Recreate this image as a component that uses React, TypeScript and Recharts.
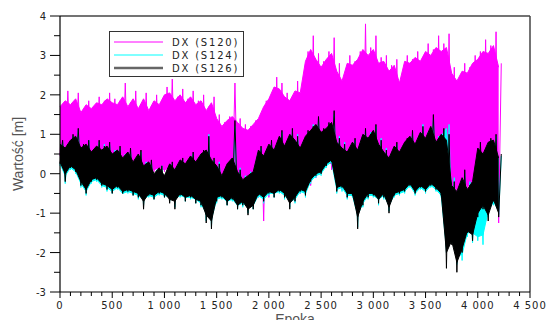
import { ComposedChart, Area, XAxis, YAxis, ReferenceLine } from 'recharts';

// epoch samples (every 50 epochs)
const epochs = [
  0, 50, 100, 150, 200, 250, 300, 350, 400, 450,
  500, 550, 600, 650, 700, 750, 800, 850, 900, 950,
  1000, 1050, 1100, 1150, 1200, 1250, 1300, 1350, 1400, 1450,
  1500, 1550, 1600, 1650, 1700, 1750, 1800, 1850, 1900, 1950,
  2000, 2050, 2100, 2150, 2200, 2250, 2300, 2350, 2400, 2450,
  2500, 2550, 2600, 2650, 2700, 2750, 2800, 2850, 2900, 2950,
  3000, 3050, 3100, 3150, 3200, 3250, 3300, 3350, 3400, 3450,
  3500, 3550, 3600, 3650, 3700, 3750, 3800, 3850, 3900, 3950,
  4000, 4050, 4100, 4150, 4200,
];

// DX (S120): spike tops / spike bottoms, and the dense band
const s120Hi = [
  1.75, 2.1, 1.8, 2.05, 1.55, 1.85, 1.7, 1.95, 1.85, 2.05,
  1.9, 1.85, 2.3, 1.8, 2.1, 1.75, 2.05, 1.7, 2.0, 1.85,
  2.2, 2.4, 1.95, 2.15, 1.9, 2.1, 1.85, 2.0, 1.7, 1.95,
  1.5, 1.3, 1.45, 2.3, 1.4, 1.25, 1.2, 1.35, 1.5, 1.85,
  2.0, 2.45, 2.3, 2.05, 1.95, 2.35, 2.2, 3.1, 3.5, 3.05,
  2.85, 3.1, 3.45, 2.8, 2.5, 3.0, 2.85, 3.1, 3.8, 3.2,
  3.5, 2.95, 3.0, 2.75, 2.9, 2.4, 3.0, 2.9, 3.1, 2.95,
  3.3, 3.15, 3.5, 3.3, 3.55, 2.7, 2.45, 2.8, 2.7, 3.0,
  3.1, 3.4, 3.25, 3.6, 2.8,
];
const s120Lo = [
  0.45, 0.35, 0.4, 0.3, 0.2, 0.15, 0.1, 0.2, 0.1, 0.05,
  0.1, 0.0, 0.05, -0.05, 0.1, 0.05, 0.1, 0.15, 0.05, 0.1,
  0.05, 0.1, 0.0, -0.1, -0.05, 0.0, -0.1, -0.2, -0.3, -0.2,
  -0.3, -0.4, -0.3, -0.4, -0.5, -0.6, -0.5, -0.7, -0.6, -1.2,
  -0.6, -0.4, -0.3, -0.5, -0.6, -0.7, -0.5, -0.2, -0.3, -0.1,
  0.1, 0.2, 0.1, -0.3, -0.4, -0.6, -0.5, -0.9, -0.5, -0.3,
  -0.4, -0.5, -0.6, -0.5, -0.4, -0.3, -0.3, -0.2, -0.3, -0.2,
  -0.1, -0.2, -0.1, -0.2, -0.3, -0.5, -0.6, -0.4, -0.5, -0.6,
  -0.4, -0.3, -0.4, -0.6, -1.25,
];
const s120BandHi = [
  1.7, 1.85, 1.75, 1.9, 1.55, 1.75, 1.65, 1.8, 1.75, 1.9,
  1.8, 1.75, 1.95, 1.7, 1.9, 1.65, 1.9, 1.6, 1.85, 1.75,
  2.0, 2.05, 1.85, 2.0, 1.8, 1.95, 1.75, 1.85, 1.6, 1.8,
  1.4, 1.2, 1.35, 1.45, 1.3, 1.15, 1.1, 1.25, 1.4, 1.7,
  1.9, 2.2, 2.15, 1.95, 1.85, 2.1, 2.05, 2.85, 3.15, 2.9,
  2.7, 2.9, 3.05, 2.6, 2.35, 2.8, 2.75, 2.9, 3.15, 3.0,
  3.15, 2.8, 2.85, 2.6, 2.75, 2.3, 2.85, 2.8, 2.95, 2.85,
  3.1, 3.0, 3.2, 3.1, 3.2, 2.55, 2.35, 2.6, 2.55, 2.8,
  2.9, 3.1, 3.05, 3.25, 2.7,
];
const s120BandLo = [
  0.5, 0.45, 0.5, 0.4, 0.3, 0.3, 0.2, 0.3, 0.2, 0.15,
  0.2, 0.1, 0.15, 0.05, 0.15, 0.1, 0.15, 0.2, 0.1, 0.15,
  0.1, 0.15, 0.05, 0.0, 0.05, 0.1, 0.0, -0.05, -0.1, -0.05,
  -0.15, -0.2, -0.15, -0.2, -0.3, -0.35, -0.3, -0.4, -0.3, -0.4,
  -0.3, -0.2, -0.1, -0.25, -0.3, -0.35, -0.25, 0.0, -0.1, 0.05,
  0.2, 0.3, 0.25, -0.1, -0.2, -0.35, -0.3, -0.5, -0.3, -0.15,
  -0.2, -0.3, -0.35, -0.3, -0.2, -0.15, -0.1, -0.05, -0.15, -0.05,
  0.0, -0.05, 0.0, -0.05, -0.15, -0.3, -0.4, -0.25, -0.3, -0.35,
  -0.2, -0.15, -0.2, -0.35, -0.6,
];

// DX (S124)
const s124Hi = [
  0.8, 0.7, 0.95, 1.1, 0.7, 0.85, 0.6, 0.8, 0.75, 0.75,
  0.6, 0.65, 0.5, 0.6, 0.4, 0.55, 0.3, 0.3, 0.1, 0.2,
  0.05, 0.25, 0.2, 0.35, 0.3, 0.5, 0.35, 0.55, 1.0, 0.35,
  0.3, 0.05, 0.25, 1.2, 0.15, -0.05, 0.05, 0.15, 0.65, 0.5,
  0.8, 0.7, 1.05, 0.75, 1.1, 1.0, 0.8, 1.05, 1.25, 1.4,
  1.1, 1.25, 1.5, 0.95, 0.8, 0.65, 0.85, 0.75, 1.1, 1.05,
  1.2, 0.9, 0.65, 0.5, 0.75, 0.65, 0.85, 1.05, 0.9, 1.25,
  1.05, 1.4, 0.95, 1.1, 1.25, -0.1, -0.3, 0.0, -0.2, 0.0,
  -0.2, 0.5, 0.85, 0.95, 0.45,
];
const s124Lo = [
  0.2, -0.25, 0.1, 0.0, -0.35, -0.55, -0.25, -0.2, -0.35, -0.45,
  -0.5, -0.4, -0.5, -0.5, -0.55, -0.65, -0.8, -0.6, -0.65, -0.55,
  -0.6, -0.7, -0.85, -0.6, -0.7, -0.65, -0.75, -0.85, -1.2, -1.35,
  -0.75, -0.65, -0.8, -0.7, -0.9, -0.85, -1.0, -0.9, -0.6, -0.75,
  -0.55, -0.6, -0.5, -0.65, -0.85, -0.75, -0.5, -0.6, -0.25, -0.1,
  -0.05, 0.15, 0.25, -0.5, -0.45, -0.65, -0.6, -1.35, -0.85, -0.65,
  -0.6, -0.8, -0.65, -0.95, -0.6, -0.55, -0.5, -0.35, -0.55, -0.4,
  -0.5, -0.35, -0.45, -0.6, -2.0, -1.7, -2.3, -2.2, -1.6, -1.75,
  -1.7, -1.8, -1.1, -0.8, -1.05,
];
const s124BandHi = [
  0.7, 0.6, 0.8, 0.9, 0.6, 0.7, 0.5, 0.65, 0.55, 0.65,
  0.45, 0.55, 0.35, 0.5, 0.25, 0.45, 0.15, 0.25, -0.05, 0.1,
  -0.1, 0.2, 0.05, 0.3, 0.2, 0.4, 0.25, 0.45, 0.55, 0.3,
  0.15, -0.1, 0.2, 0.35, 0.0, -0.2, -0.1, 0.0, 0.55, 0.4,
  0.7, 0.55, 0.9, 0.65, 0.95, 0.8, 0.6, 0.9, 1.05, 1.2,
  1.0, 1.1, 1.25, 0.75, 0.6, 0.5, 0.75, 0.55, 0.95, 0.85,
  1.05, 0.7, 0.5, 0.35, 0.65, 0.5, 0.75, 0.9, 0.7, 1.0,
  0.85, 1.15, 0.75, 0.95, 1.15, -0.35, -0.5, -0.15, -0.45, -0.25,
  -0.2, 0.45, 0.75, 0.8, 0.35,
];
const s124BandLo = [
  0.25, -0.05, 0.15, 0.05, -0.25, -0.45, -0.2, -0.15, -0.3, -0.35,
  -0.45, -0.35, -0.5, -0.45, -0.5, -0.55, -0.65, -0.55, -0.6, -0.5,
  -0.55, -0.6, -0.65, -0.55, -0.6, -0.6, -0.65, -0.75, -1.0, -1.15,
  -0.65, -0.6, -0.7, -0.65, -0.8, -0.75, -0.85, -0.8, -0.55, -0.65,
  -0.5, -0.5, -0.45, -0.55, -0.7, -0.65, -0.45, -0.5, -0.2, -0.05,
  0.0, 0.2, 0.3, -0.4, -0.35, -0.55, -0.55, -1.05, -0.75, -0.55,
  -0.55, -0.65, -0.55, -0.8, -0.55, -0.5, -0.45, -0.3, -0.5, -0.35,
  -0.45, -0.3, -0.4, -0.55, -1.9, -1.65, -2.1, -2.05, -1.5, -1.5,
  -1.6, -1.55, -0.95, -0.7, -0.95,
];

// DX (S126)
const s126Hi = [
  0.85, 0.75, 1.0, 1.15, 0.75, 0.85, 0.6, 0.85, 0.7, 0.8,
  0.55, 0.7, 0.45, 0.65, 0.35, 0.6, 0.25, 0.35, 0.05, 0.2,
  0.0, 0.3, 0.15, 0.4, 0.3, 0.55, 0.35, 0.6, 0.95, 0.4,
  0.25, 0.0, 0.3, 1.35, 0.1, -0.1, 0.0, 0.1, 0.7, 0.55,
  0.85, 0.65, 1.1, 0.8, 1.15, 0.95, 0.75, 1.1, 1.2, 1.45,
  1.15, 1.3, 1.6, 0.9, 0.75, 0.6, 0.9, 0.7, 1.15, 1.0,
  1.25, 0.85, 0.6, 0.45, 0.8, 0.6, 0.9, 1.1, 0.85, 1.2,
  1.0, 1.5, 0.9, 1.15, 1.0, -0.2, -0.4, 0.1, -0.3, -0.1,
  0.8, 0.6, 0.9, 1.0, 0.5,
];
const s126Lo = [
  0.25, -0.2, 0.15, 0.05, -0.3, -0.5, -0.2, -0.15, -0.3, -0.4,
  -0.5, -0.35, -0.5, -0.45, -0.55, -0.6, -0.9, -0.55, -0.65, -0.5,
  -0.6, -0.75, -0.9, -0.55, -0.7, -0.6, -0.75, -0.8, -1.25, -1.4,
  -0.7, -0.6, -0.8, -0.65, -0.9, -0.8, -1.05, -0.9, -0.55, -0.7,
  -0.5, -0.6, -0.45, -0.6, -0.9, -0.7, -0.45, -0.55, -0.2, -0.05,
  0.0, 0.2, 0.3, -0.45, -0.35, -0.6, -0.55, -1.4, -0.8, -0.6,
  -0.55, -0.75, -0.6, -1.0, -0.55, -0.5, -0.45, -0.3, -0.5, -0.35,
  -0.45, -0.3, -0.4, -0.55, -2.4, -1.8, -2.5, -2.0, -1.5, -1.7,
  -1.1, -0.9, -1.2, -0.7, -1.1,
];
const s126BandHi = [
  0.75, 0.65, 0.85, 0.95, 0.65, 0.75, 0.55, 0.7, 0.6, 0.7,
  0.5, 0.6, 0.4, 0.55, 0.3, 0.5, 0.2, 0.3, 0.0, 0.15,
  -0.05, 0.25, 0.1, 0.35, 0.25, 0.45, 0.3, 0.5, 0.6, 0.35,
  0.2, -0.05, 0.25, 0.4, 0.05, -0.15, -0.05, 0.05, 0.6, 0.45,
  0.75, 0.6, 0.95, 0.7, 1.0, 0.85, 0.65, 0.95, 1.1, 1.25,
  1.05, 1.15, 1.3, 0.8, 0.65, 0.55, 0.8, 0.6, 1.0, 0.9,
  1.1, 0.75, 0.55, 0.4, 0.7, 0.55, 0.8, 0.95, 0.75, 1.05,
  0.9, 1.2, 0.8, 1.0, 0.85, -0.3, -0.45, -0.1, -0.4, -0.2,
  0.65, 0.5, 0.8, 0.85, 0.4,
];
const s126BandLo = [
  0.3, 0.0, 0.2, 0.1, -0.2, -0.4, -0.15, -0.1, -0.25, -0.3,
  -0.4, -0.3, -0.45, -0.4, -0.45, -0.5, -0.7, -0.5, -0.55, -0.45,
  -0.5, -0.65, -0.7, -0.5, -0.6, -0.55, -0.65, -0.7, -1.05, -1.2,
  -0.6, -0.55, -0.7, -0.6, -0.8, -0.7, -0.9, -0.8, -0.5, -0.6,
  -0.45, -0.5, -0.4, -0.5, -0.75, -0.6, -0.4, -0.45, -0.15, 0.0,
  0.05, 0.25, 0.35, -0.35, -0.3, -0.5, -0.5, -1.1, -0.7, -0.5,
  -0.5, -0.65, -0.5, -0.85, -0.5, -0.45, -0.4, -0.25, -0.45, -0.3,
  -0.4, -0.25, -0.35, -0.5, -2.0, -1.7, -2.25, -1.9, -1.45, -1.55,
  -1.0, -0.8, -1.05, -0.65, -1.0,
];

const xTicks = [
  0, 100, 200, 300, 400, 500, 600, 700, 800, 900, 1000, 1100, 1200, 1300, 1400,
  1500, 1600, 1700, 1800, 1900, 2000, 2100, 2200, 2300, 2400, 2500, 2600, 2700,
  2800, 2900, 3000, 3100, 3200, 3300, 3400, 3500, 3600, 3700, 3800, 3900, 4000,
  4100, 4200, 4300, 4400, 4500,
];
const yTicks = [-3, -2.5, -2, -1.5, -1, -0.5, 0, 0.5, 1, 1.5, 2, 2.5, 3, 3.5, 4];

const series = [
  { key: 's120', name: 'DX (S120)', color: '#ff00ff', legendColor: '#ff00ff', legendWidth: 1, hi: s120Hi, lo: s120Lo, bandHi: s120BandHi, bandLo: s120BandLo },
  { key: 's124', name: 'DX (S124)', color: '#00ffff', legendColor: '#00ffff', legendWidth: 1, hi: s124Hi, lo: s124Lo, bandHi: s124BandHi, bandLo: s124BandLo },
  { key: 's126', name: 'DX (S126)', color: '#000000', legendColor: '#666666', legendWidth: 2.5, hi: s126Hi, lo: s126Lo, bandHi: s126BandHi, bandLo: s126BandLo },
];

// dense band per series (range area)
const bandRows = epochs.map((x, i) => {
  const row: any = { x };
  series.forEach((s) => {
    row[s.key] = [s.bandLo[i], s.bandHi[i]];
  });
  return row;
});

// spikes: bottom sample on the epoch, top sample half a step later
const spikeRows = (s: (typeof series)[number]) =>
  epochs.flatMap((x, i) => [
    { x, v: s.lo[i] },
    { x: x + 25, v: s.hi[i] },
  ]);

const FONT = '"DejaVu Sans", Verdana, sans-serif';

const fmtEpoch = (v: number) =>
  v >= 1000 ? `${Math.floor(v / 1000)} ${String(v % 1000).padStart(3, '0')}` : String(v);

const XTick = (props: any) => {
  const { x, y, payload } = props;
  const v = payload.value;
  if (v % 500 !== 0) {
    return <line x1={x} y1={y} x2={x} y2={y + 4} stroke="#000" />;
  }
  return (
    <g>
      <line x1={x} y1={y} x2={x} y2={y + 6} stroke="#000" />
      <text x={x} y={y + 17} textAnchor="middle" fontFamily={FONT} fontSize={10} letterSpacing={1} fill="#222">
        {fmtEpoch(v)}
      </text>
    </g>
  );
};

const YTick = (props: any) => {
  const { x, y, payload } = props;
  const v = payload.value;
  if (!Number.isInteger(v)) {
    return <line x1={x - 6} y1={y} x2={x} y2={y} stroke="#000" />;
  }
  return (
    <g>
      <line x1={x - 10} y1={y} x2={x} y2={y} stroke="#000" />
      <text x={x - 14} y={y + 4} textAnchor="end" fontFamily={FONT} fontSize={10} fill="#222">
        {v}
      </text>
    </g>
  );
};

function LegendBox() {
  return (
    <div
      style={{
        position: 'absolute',
        left: 109,
        top: 31,
        width: 135,
        height: 46,
        border: '1px solid #333',
        background: '#fff',
        boxSizing: 'border-box',
      }}
    >
      <svg width={135} height={46}>
        {series.map((s, i) => (
          <g key={s.key}>
            <line x1={4} x2={53} y1={10 + i * 13} y2={10 + i * 13} stroke={s.legendColor} strokeWidth={s.legendWidth} />
            <text x={62} y={14 + i * 13} fontFamily={FONT} fontSize={10} letterSpacing={1.8} fill="#222">
              {s.name}
            </text>
          </g>
        ))}
      </svg>
    </div>
  );
}

export default function App() {
  return (
    <div style={{ position: 'absolute', left: 0, top: 0, width: 549, height: 320, background: '#fff', overflow: 'hidden' }}>
      <ComposedChart width={549} height={320} data={bandRows} margin={{ top: 16, right: 19, bottom: 0, left: 0 }}>
        <XAxis
          dataKey="x"
          type="number"
          domain={[0, 4500]}
          ticks={xTicks}
          interval={0}
          tickSize={0}
          tickMargin={0}
          tickLine={false}
          tick={<XTick />}
          height={28}
          axisLine={{ stroke: '#000', strokeWidth: 1.2 }}
          label={(p: any) => (
            <text
              x={p.viewBox.x + p.viewBox.width / 2}
              y={p.viewBox.y + p.viewBox.height + 4}
              textAnchor="middle"
              fontFamily='"Liberation Sans", Arial, sans-serif'
              fontSize={14}
              fill="#555"
            >
              Epoka
            </text>
          )}
        />
        <YAxis
          type="number"
          domain={[-3, 4]}
          ticks={yTicks}
          interval={0}
          tickSize={0}
          tickMargin={0}
          tickLine={false}
          tick={<YTick />}
          width={60}
          axisLine={{ stroke: '#000', strokeWidth: 1.2 }}
          label={(p: any) => {
            const cx = 23;
            const cy = p.viewBox.y + p.viewBox.height / 2;
            return (
              <text
                x={cx}
                y={cy}
                transform={`rotate(-90 ${cx} ${cy})`}
                textAnchor="middle"
                fontFamily='"Liberation Sans", Arial, sans-serif'
                fontSize={14}
                fill="#555"
              >
                Wartość [m]
              </text>
            );
          }}
        />
        <ReferenceLine y={4} stroke="#444" strokeWidth={1.5} />
        <ReferenceLine x={4500} stroke="#444" strokeWidth={1.5} />
        {series.flatMap((s) => [
          <Area
            key={`${s.key}-band`}
            type="linear"
            dataKey={s.key}
            name={s.name}
            stroke={s.color}
            strokeWidth={1}
            fill={s.color}
            fillOpacity={1}
            dot={false}
            activeDot={false}
            isAnimationActive={false}
          />,
          <Area
            key={`${s.key}-spikes`}
            data={spikeRows(s)}
            type="linear"
            dataKey="v"
            name={s.name}
            stroke={s.color}
            strokeWidth={1}
            fill="none"
            dot={false}
            activeDot={false}
            isAnimationActive={false}
            legendType="none"
          />,
        ])}
      </ComposedChart>
      <LegendBox />
    </div>
  );
}
